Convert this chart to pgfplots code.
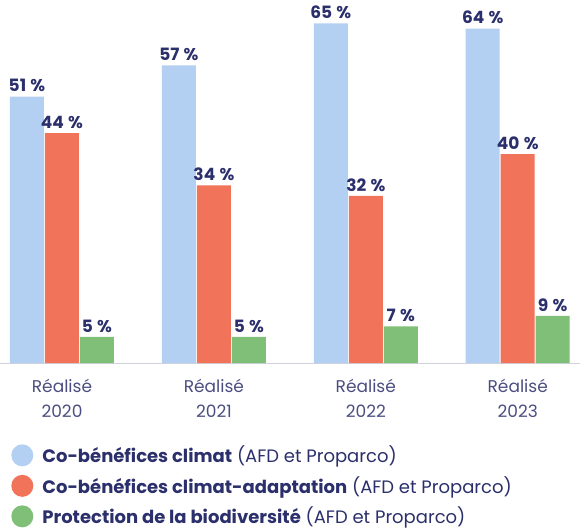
\documentclass[border=0pt]{standalone}
\usepackage{fontspec}
\setmainfont{Poppins}
\usepackage{pgfplots}
\pgfplotsset{compat=1.18}
\definecolor{cblue}{HTML}{B3D0F2}
\definecolor{corange}{HTML}{F0735A}
\definecolor{cgreen}{HTML}{80BF78}
\definecolor{navy}{HTML}{2B2F6B}
\definecolor{basegray}{HTML}{D0D2DE}
\begin{document}
\begin{tikzpicture}
\useasboundingbox (0,0) rectangle (580pt,530pt);
\begin{axis}[
  at={(0pt,167pt)}, anchor=south west,
  scale only axis, width=580pt, height=363pt,
  xmin=-0.408, xmax=3.41, ymin=0, ymax=69.5,
  ybar=1pt, bar width=34pt,
  axis y line=none, axis x line*=bottom,
  x axis line style={draw=basegray, line width=1pt, -},
  xtick=data, xtick style={draw=none},
  xticklabels={{Réalisé\\2020},{Réalisé\\2021},{Réalisé\\2022},{Réalisé\\2023}},
  xticklabel style={align=center, font=\fontsize{17}{25.5}\selectfont, text=navy!85, yshift=-8pt},
  /pgf/number format/assume math mode=true,
  nodes near coords={\pgfmathprintnumber{\pgfplotspointmeta}\hspace{0.25em}\%},
  nodes near coords style={font=\fontsize{17}{20}\selectfont\bfseries, text=navy, yshift=1pt},
  every axis plot/.append style={draw=none},
  legend style={at={(0.014,-0.218)}, anchor=north west, draw=none, fill=none,
    row sep=8.5pt, font=\fontsize{18}{20}\selectfont, text=navy,
    nodes={inner sep=0pt}, column sep=2pt},
  legend cell align=left,
  legend image code/.code={\fill[#1,draw=none] (0pt,0pt) circle (11pt);
    \path (18pt,0pt);},
]
\addplot[fill=cblue] coordinates {(0,51) (1,57) (2,65) (3,64)};
\addplot[fill=corange] coordinates {(0,44) (1,34) (2,32) (3,40)};
\addplot[fill=cgreen] coordinates {(0,5) (1,5) (2,7) (3,9)};
\addlegendentry{\textbf{Co-bénéfices climat} (AFD et Proparco)}
\addlegendentry{\textbf{Co-bénéfices climat-adaptation} (AFD et Proparco)}
\addlegendentry{\textbf{Protection de la biodiversité} (AFD et Proparco)}
\end{axis}
\end{tikzpicture}
\end{document}
